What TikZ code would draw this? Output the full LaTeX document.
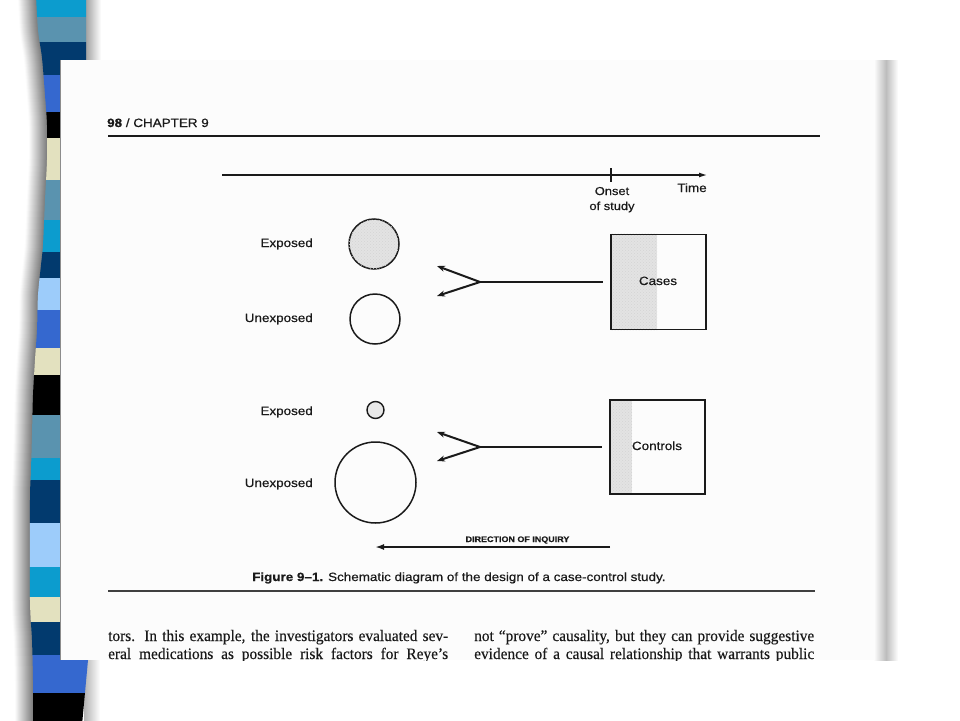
\documentclass[tikz,border=0pt]{standalone}
\usepackage{fontspec}
\usetikzlibrary{arrows.meta,patterns,backgrounds}
\newfontfamily\figfont[FakeStretch=1.12,FakeBold=0.5]{Liberation Sans}
\newfontfamily\bodyfont[FakeStretch=0.96,FakeBold=0.3]{Liberation Serif}
\definecolor{cyanS}{HTML}{0C9CCE}
\definecolor{steelS}{HTML}{5A93AF}
\definecolor{navyS}{HTML}{023A6E}
\definecolor{royalS}{HTML}{3568CF}
\definecolor{beigeS}{HTML}{E3E1BF}
\definecolor{lightS}{HTML}{9DCCFA}
\definecolor{pagecol}{HTML}{FCFCFC}
\definecolor{ink}{HTML}{1A1A1A}
\begin{document}
\begin{tikzpicture}[x=1pt,y=-1pt,
  lbl/.style={font=\figfont\fontsize{12}{14}\selectfont, text=ink, inner sep=0pt},
  smalllbl/.style={font=\figfont\fontsize{11.5}{13}\selectfont, text=ink, inner sep=0pt},
  body/.style={font=\bodyfont\fontsize{16}{18}\selectfont, text=ink, inner sep=0pt},
  stip/.style={fill=black!11, postaction={pattern=crosshatch dots, pattern color=black!17}},
  circ/.style={circle, draw=ink, line width=1.5pt, inner sep=0pt},
  casebox/.style={rectangle, draw=ink, line width=1.9pt, inner sep=0pt},
  fork/.style={draw=ink, line width=2pt, -{Stealth[length=8pt,width=6pt]}},
  conn/.style={draw=ink, line width=2pt},
  timeax/.style={draw=ink, line width=1.2pt, -{Latex[length=8pt,width=5pt]}},
  dirarrow/.style={draw=ink, line width=2pt, -{Latex[length=9pt,width=6pt]}}
]
\useasboundingbox (0,0) rectangle (960,720);
\begin{scope}[on background layer]
\fill[white] (0,0) rectangle (960,720);
% shadow left of the strip
\foreach \k in {18,...,1}{
  \pgfmathsetmacro\cc{52-2.8*\k}
  \pgfmathsetmacro\lw{2*\k}
  \draw[line width=\lw pt, draw=black!\cc] plot[smooth] coordinates {(36,-5) (38,30) (42,58) (45,95) (47,125) (47,160) (45,200) (43,245) (41,265) (38,295) (37,330) (35,360) (33,395) (32,435) (31,470) (30,500) (30,600) (32,640) (33,680) (33,725)};
}
% shadows right of the strip
\shade[left color=black!38, right color=white] (85,0) rectangle (101,62);
\shade[left color=black!30, right color=white] (84,660) rectangle (100,720);
% strip
\begin{scope}
\clip plot[smooth] coordinates {(36,-5) (38,30) (42,58) (45,95) (47,125) (47,160) (45,200) (43,245) (41,265) (38,295) (37,330) (35,360) (33,395) (32,435) (31,470) (30,500) (30,600) (32,640) (33,680) (33,725)} -- (82,725) -- (88,660) -- (86,-5) -- cycle;
\foreach \a/\b/\c in {-5/17/cyanS,17/42/steelS,42/75/navyS,75/112/royalS,112/138/black,138/180/beigeS,180/220/steelS,220/252/cyanS,252/278/navyS,278/310/lightS,310/348/royalS,348/375/beigeS,375/415/black,415/458/steelS,458/480/cyanS,480/523/navyS,523/567/lightS,567/597/cyanS,597/622/beigeS,622/655/navyS,655/693/royalS,693/725/black}{
  \fill[\c] (20,\a) rectangle (95,\b);
}
\end{scope}
% page
\fill[pagecol] (60,60) rectangle (886,660);
\draw[black!45, line width=1pt] (60.5,60) -- (60.5,660);
\shade[left color=pagecol, right color=black!26] (874,60) rectangle (886,660);
\shade[left color=black!26, right color=white] (886,60) rectangle (898,660);
\end{scope}

% header
\node[lbl, anchor=base west] (hdr) at (107,127) {\textbf{98} / CHAPTER 9};
\draw[ink, line width=2.4pt] (108,136) -- (820,136);

% time axis
\coordinate (t0) at (222,175);
\coordinate (t1) at (707,175);
\coordinate (onset) at (611,175);
\draw[timeax] (t0) -- (t1);
\draw[ink, line width=1.2pt] ([yshift=7pt]onset) -- ([yshift=-7pt]onset);
\node[smalllbl, anchor=base] (ons1) at (612,195) {Onset};
\node[smalllbl, anchor=base] (ons2) at (612,210) {of study};
\node[lbl, anchor=base] (time) at (692,192) {Time};

% circles, top group
\node[circ, stip, minimum size=50pt] (e1) at (374,244) {};
\node[circ, minimum size=50pt] (u1) at (375,319) {};
\node[lbl, anchor=base east] (le1) at (313,247) {Exposed};
\node[lbl, anchor=base east] (lu1) at (313,322) {Unexposed};

% circles, bottom group
\node[circ, fill=black!9, line width=1.4pt, minimum size=17pt] (e2) at (375.5,410) {};
\node[circ, minimum size=81pt] (u2) at (375.5,482.5) {};
\node[lbl, anchor=base east] (le2) at (313,415) {Exposed};
\node[lbl, anchor=base east] (lu2) at (313,487) {Unexposed};

% boxes
\node[casebox, minimum width=95pt, minimum height=95pt] (cases) at (658.5,282) {};
\node[casebox, minimum width=95pt, minimum height=94pt] (controls) at (657.5,447) {};
\begin{scope}[on background layer]
\fill[stip] (cases.north west) rectangle ([xshift=47pt]cases.south west);
\fill[stip] (controls.north west) rectangle ([xshift=23pt]controls.south west);
\end{scope}
\node[lbl, anchor=base] (casestxt) at (658,285) {Cases};
\node[lbl, anchor=base] (controlstxt) at (657,450) {Controls};

% forks
\coordinate (v1) at (480,282);
\coordinate (a1) at (437,266);
\coordinate (a2) at (437,296);
\draw[fork] (v1) -- (a1);
\draw[fork] (v1) -- (a2);
\draw[conn] (v1) -- ([xshift=-7pt]cases.west);
\coordinate (v2) at (480,447);
\coordinate (b1) at (437,432);
\coordinate (b2) at (437,461);
\draw[fork] (v2) -- (b1);
\draw[fork] (v2) -- (b2);
\draw[conn] (v2) -- ([xshift=-7pt]controls.west);

% direction of inquiry
\coordinate (d0) at (610,547);
\coordinate (d1) at (375,547);
\draw[dirarrow] (d0) -- (d1);
\node[font=\figfont\bfseries\fontsize{8}{9.6}\selectfont, text=ink, inner sep=0pt, anchor=base] (dirtxt) at (517.5,542) {DIRECTION OF INQUIRY};

% caption
\node[lbl, anchor=base west] (cap) at (252,581) {\textbf{Figure 9–1.} Schematic diagram of the design of a case-control study.};
\draw[black!75, line width=2pt] (108,591) -- (815,591);

% body text
\begin{scope}
\clip (60,60) rectangle (886,660);
\node[body, anchor=base west] (l1) at (108,641) {\makebox[340pt][s]{tors. In this example, the investigators evaluated sev-}};
\node[body, anchor=base west] (l2) at (108,659) {\makebox[340pt][s]{eral medications as possible risk factors for Reye’s}};
\node[body, anchor=base west] (r1) at (474,641) {\makebox[340pt][s]{not “prove” causality, but they can provide suggestive}};
\node[body, anchor=base west] (r2) at (474,659) {\makebox[340pt][s]{evidence of a causal relationship that warrants public}};
\end{scope}
\end{tikzpicture}
\end{document}
